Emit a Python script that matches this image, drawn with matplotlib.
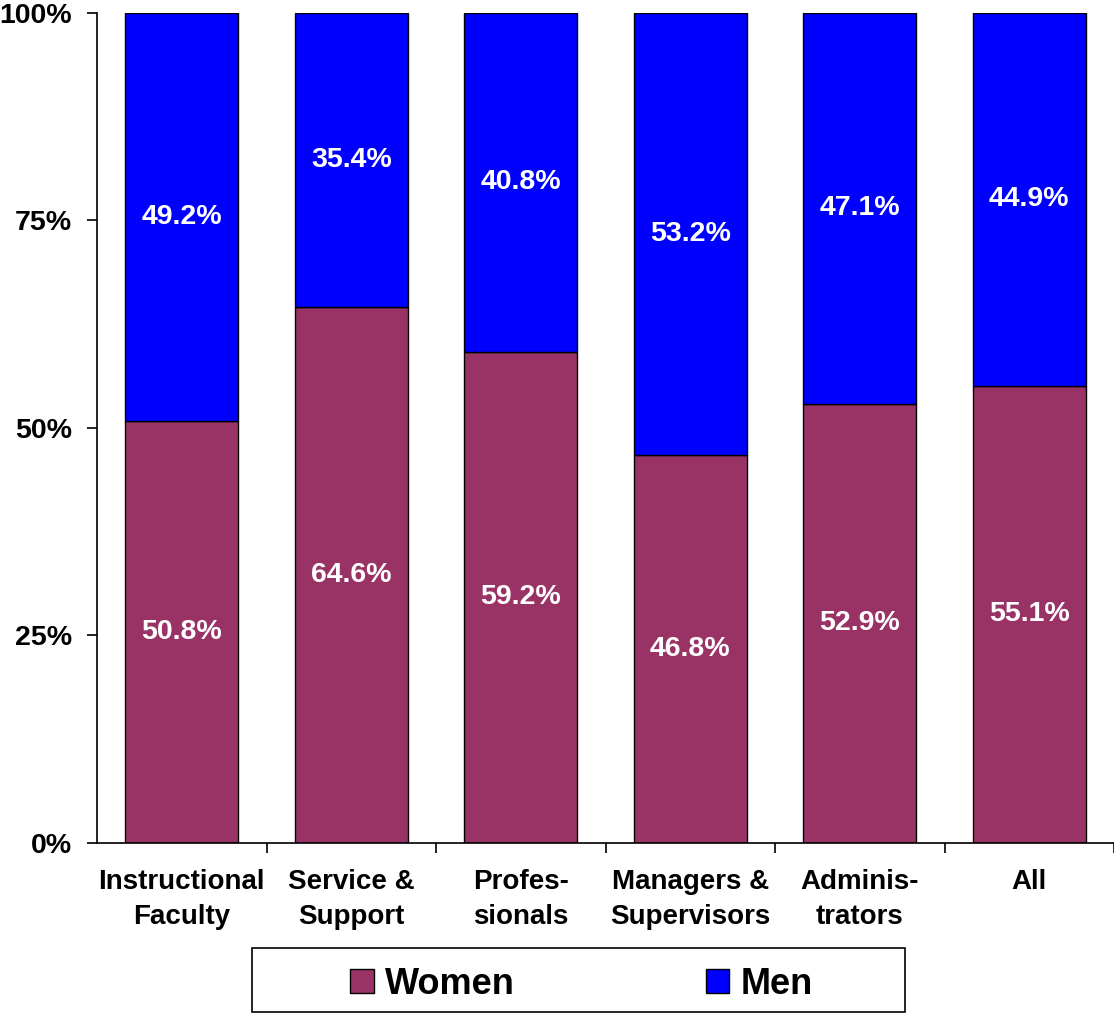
import matplotlib
matplotlib.use("Agg")
import matplotlib.pyplot as plt
from matplotlib.patches import Rectangle
import numpy as np

plt.rcParams['font.family'] = ['Liberation Sans', 'DejaVu Sans']
plt.rcParams['font.weight'] = 'bold'

categories = ["Instructional\nFaculty", "Service &\nSupport", "Profes-\nsionals",
              "Managers &\nSupervisors", "Adminis-\ntrators", "All"]
women = [50.8, 64.6, 59.2, 46.8, 52.9, 55.1]
men = [49.2, 35.4, 40.8, 53.2, 47.1, 44.9]
yticks = [0, 25, 50, 75, 100]
ytick_labels = ["0%", "25%", "50%", "75%", "100%"]

women_color = "#993366"
men_color = "#0000FF"

fig = plt.figure(figsize=(11.14, 10.16), dpi=100)
ax = fig.add_axes([0.0871, 0.1703, 0.9129, 0.8169])

x = np.arange(len(categories))
w = 0.665
b1 = ax.bar(x, women, w, color=women_color, edgecolor="black", linewidth=1, label="Women")
b2 = ax.bar(x, men, w, bottom=women, color=men_color, edgecolor="black", linewidth=1, label="Men")

for i in range(len(categories)):
    ax.text(x[i], women[i] / 2, f"{women[i]:.1f}%", ha="center", va="center",
            color="white", fontsize=20.5, fontweight="bold")
    ax.text(x[i], women[i] + men[i] / 2, f"{men[i]:.1f}%", ha="center", va="center",
            color="white", fontsize=20.5, fontweight="bold")

ax.set_xlim(-0.5, len(categories) - 0.5)
ax.set_ylim(0, 100)
ax.set_yticks(yticks)
ax.set_yticklabels(ytick_labels, fontsize=20.5, fontweight="bold")
ax.tick_params(axis="y", length=7, width=1.2, pad=11)

ax.set_xticks(x)
ax.set_xticklabels(categories, fontsize=20, fontweight="bold", linespacing=1.45)
ax.tick_params(axis="x", which="major", length=0, pad=19)
ax.set_xticks(np.arange(len(categories)) + 0.5, minor=True)
ax.tick_params(axis="x", which="minor", length=7, width=1.2, direction="out")

for s in ["top", "right"]:
    ax.spines[s].set_visible(False)
for s in ["left", "bottom"]:
    ax.spines[s].set_linewidth(1.2)

# legend box
fig.patches.append(Rectangle((0.226, 0.004), 0.586, 0.063, transform=fig.transFigure,
                             fill=False, edgecolor="black", linewidth=1.2))
leg = fig.legend(handles=[b1, b2], loc="center", bbox_to_anchor=(0.522, 0.031),
                 ncol=2, frameon=False, prop={"size": 26, "weight": "bold"},
                 handlelength=0.65, handleheight=0.65, handletextpad=0.3,
                 columnspacing=5.3)

fig.savefig("out.png", dpi=100)
